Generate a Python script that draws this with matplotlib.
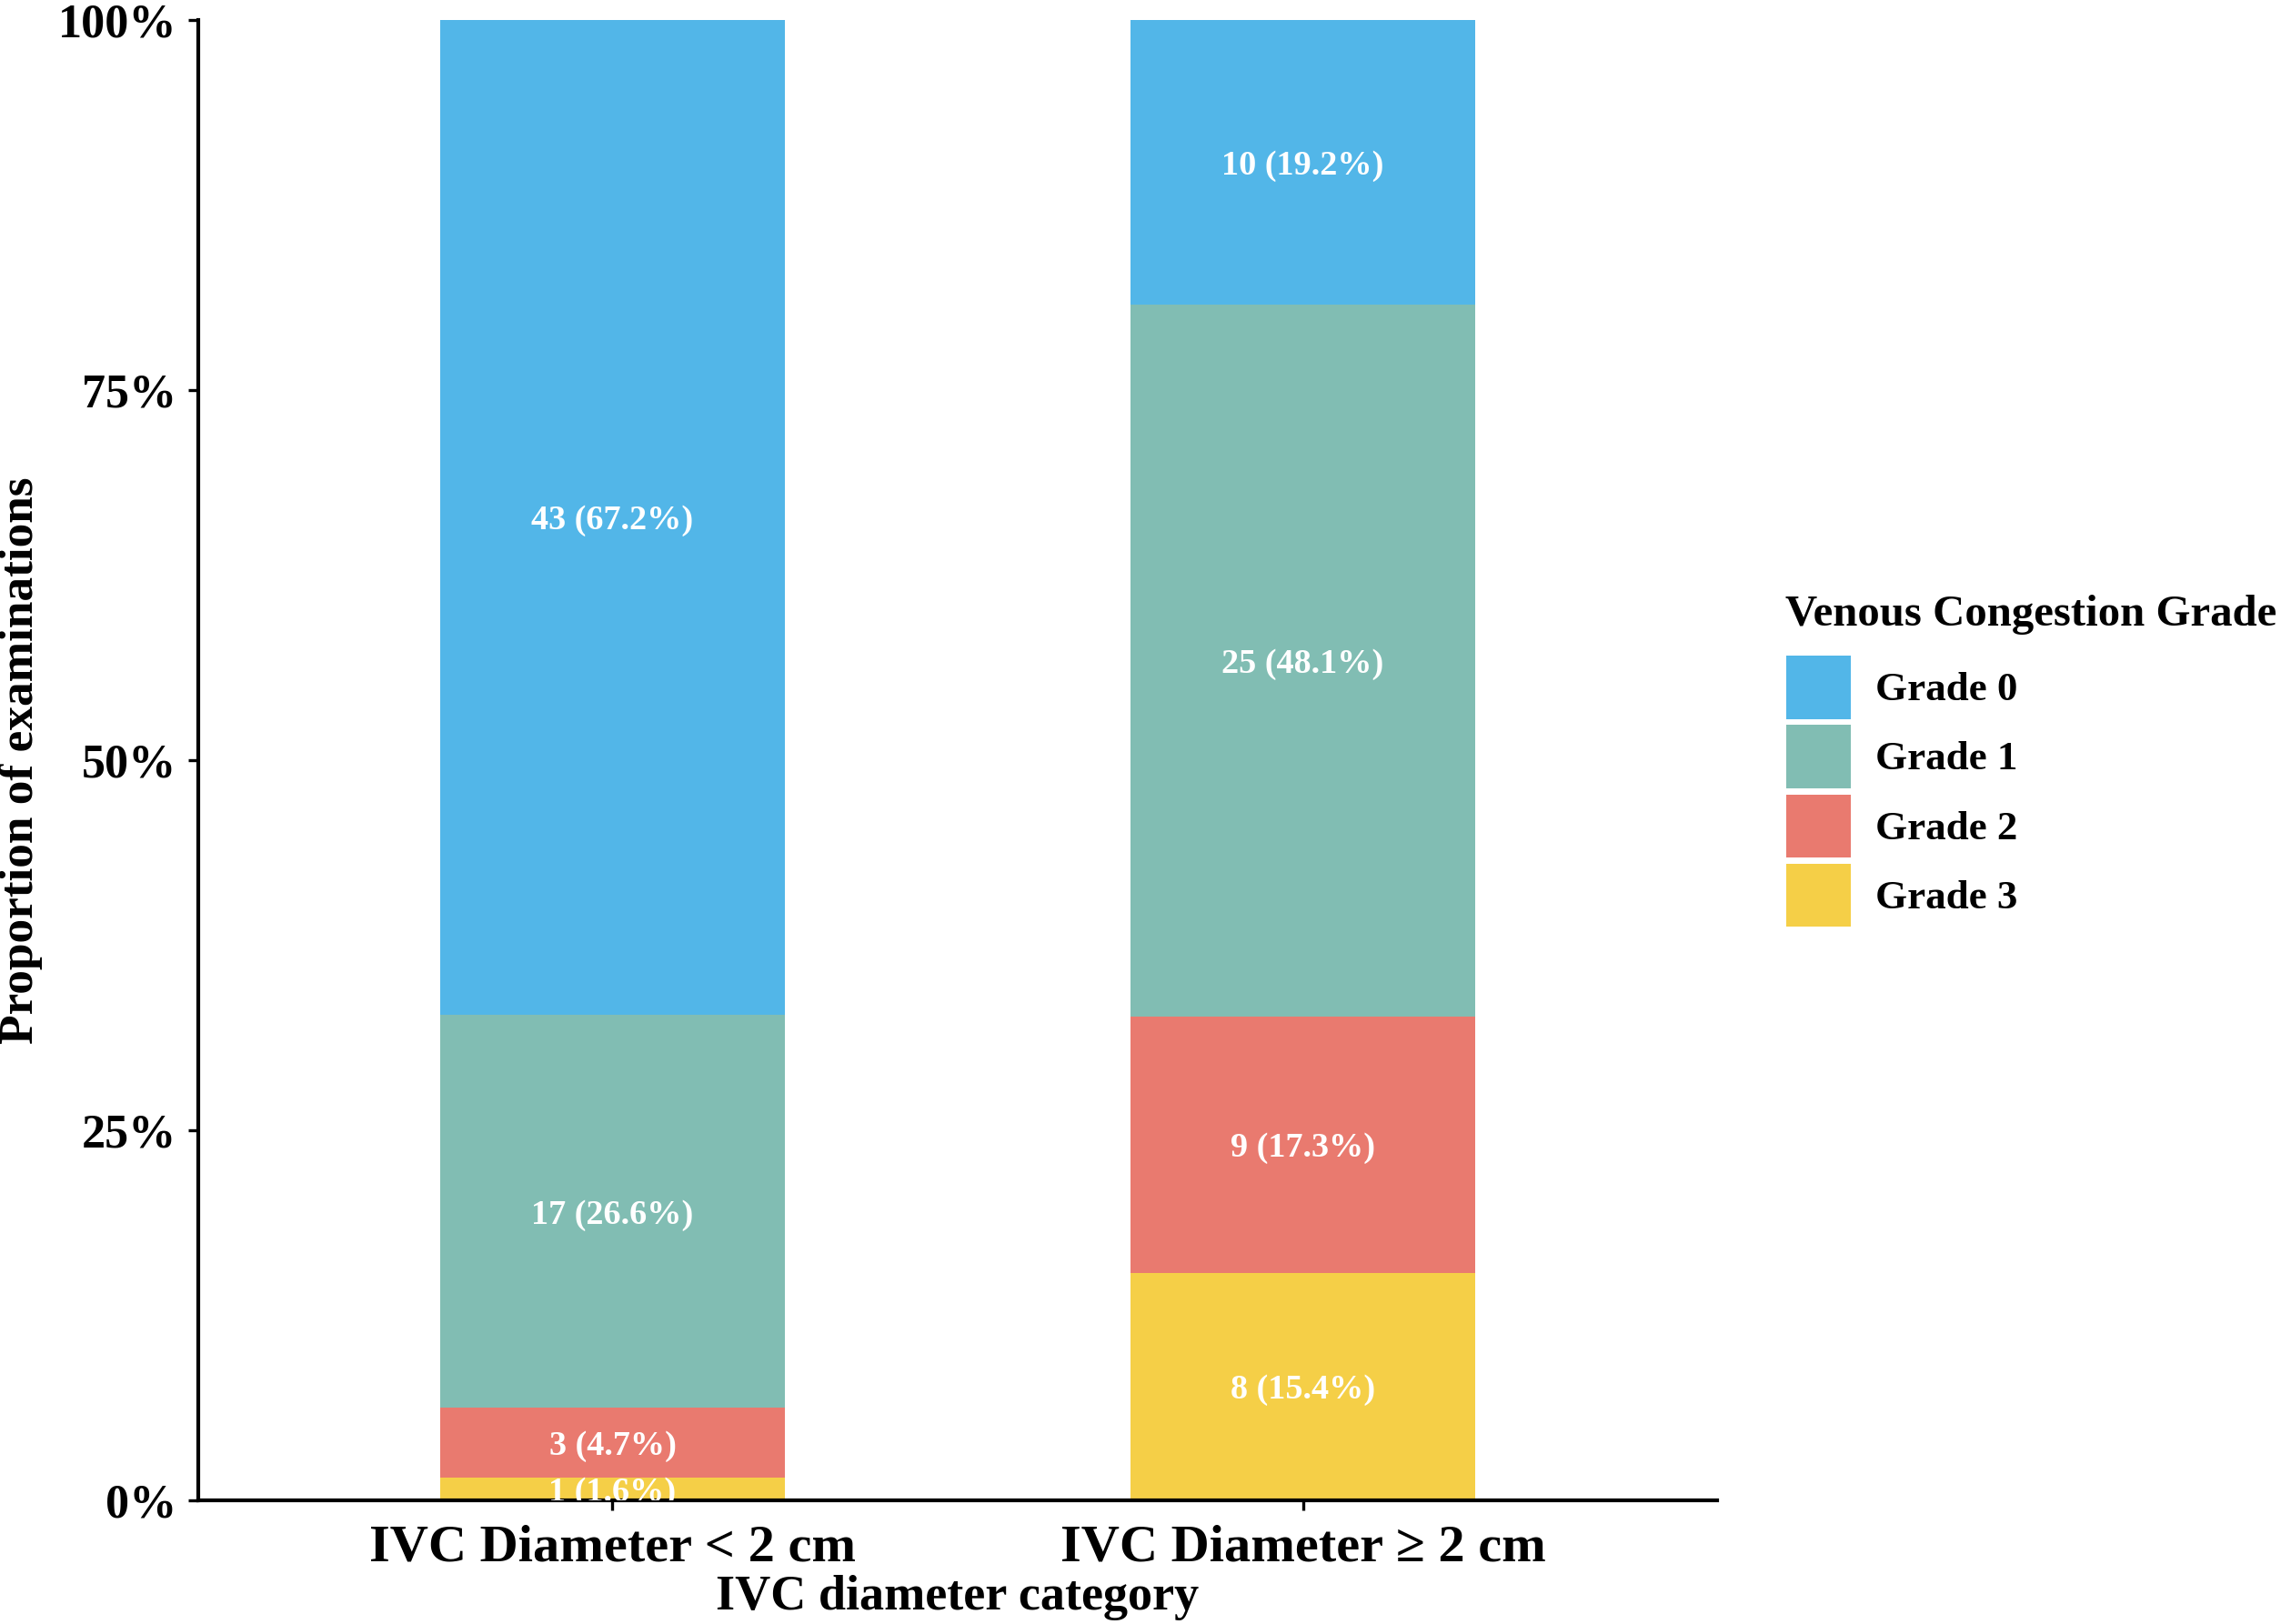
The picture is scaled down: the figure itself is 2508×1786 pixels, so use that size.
import numpy as np
import matplotlib
matplotlib.use("Agg")
import matplotlib.pyplot as plt
from matplotlib.patches import Patch
from matplotlib.ticker import FuncFormatter

plt.rcParams['font.family'] = ['Liberation Serif', 'DejaVu Serif']
plt.rcParams['font.weight'] = 'bold'

categories = ['IVC Diameter < 2 cm', 'IVC Diameter \u2265 2 cm']
grades = ['Grade 0', 'Grade 1', 'Grade 2', 'Grade 3']
colors = ['#52B6E8', '#81BDB3', '#E97A6F', '#F5CF47']
# counts per grade, one value per category
counts = {
    'Grade 0': [43, 10],
    'Grade 1': [17, 25],
    'Grade 2': [3, 9],
    'Grade 3': [1, 8],
}
yticks = [0, 0.25, 0.5, 0.75, 1.0]

W, H = 2508, 1786
fig = plt.figure(figsize=(W / 300, H / 300), dpi=300)
ax = fig.add_axes([218 / W, 136 / H, 1670 / W, 1628 / H])

x = np.arange(1, len(categories) + 1)
totals = np.sum([counts[g] for g in grades], axis=0)

# stack from Grade 3 at the bottom up to Grade 0
bottom = np.zeros(len(categories))
for g, c in zip(grades[::-1], colors[::-1]):
    n = np.array(counts[g], dtype=float)
    frac = n / totals
    ax.bar(x, frac, width=0.5, bottom=bottom, color=c, linewidth=0)
    for xi, b, f, k in zip(x, bottom, frac, counts[g]):
        ax.text(xi, b + f / 2, f'{k} ({f * 100:.1f}%)', ha='center', va='center_baseline',
                color='white', fontsize=9.2, fontweight='bold', clip_on=True)
    bottom += frac

ax.set_xlim(0.4, 2.6)
ax.set_ylim(0, 1)
ax.set_xticks(x)
ax.set_xticklabels(categories, fontsize=14, fontweight='bold')
ax.set_yticks(yticks)
ax.yaxis.set_major_formatter(FuncFormatter(lambda v, p: f'{v * 100:.0f}%'))
for lab in ax.get_yticklabels():
    lab.set_fontsize(12.5)
    lab.set_fontweight('bold')
ax.tick_params(axis='both', length=2.75, width=0.8, color='black', pad=3)
ax.tick_params(axis='x', pad=3.5)
for s in ['top', 'right']:
    ax.spines[s].set_visible(False)
for s in ['left', 'bottom']:
    ax.spines[s].set_linewidth(1.0)
    ax.spines[s].set_color('black')

ax.set_xlabel('IVC diameter category', fontsize=13, fontweight='bold', labelpad=1)
ax.set_ylabel('Proportion of examinations', fontsize=12.8, fontweight='bold', labelpad=4)

handles = [Patch(facecolor=c, edgecolor='none', label=g) for g, c in zip(grades, colors)]
leg = fig.legend(handles=handles, loc='upper left',
                 bbox_to_anchor=(1964 / W, 1 - 721 / H), frameon=False,
                 fontsize=10.8, handlelength=1.58, handleheight=2.0, labelspacing=0.15,
                 handletextpad=0.6, borderpad=0, borderaxespad=0)
fig.text(1963 / W, 1 - 671 / H, 'Venous Congestion Grade', fontsize=11.7,
         fontweight='bold', ha='left', va='center_baseline')

fig.savefig('out.png', dpi=300)
